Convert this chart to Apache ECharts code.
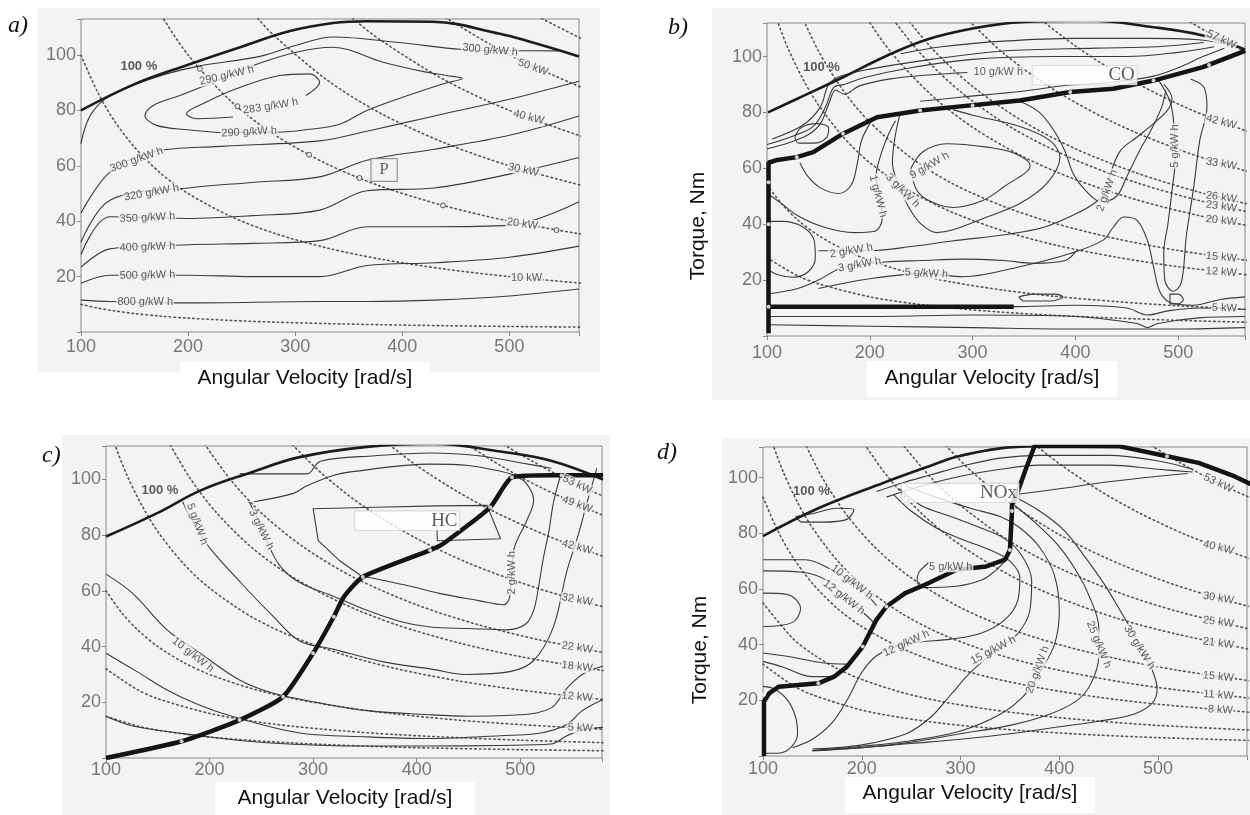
<!DOCTYPE html>
<html><head><meta charset="utf-8">
<script src="https://cdn.jsdelivr.net/npm/echarts@6/dist/echarts.min.js"></script>
<style>html,body{margin:0;padding:0;background:#fff;}#c{width:1250px;height:815px;}</style>
</head><body><div id="c"></div>
<script>
// ================= DATA =================
const xTicks = [100, 200, 300, 400, 500];
const yTicks = [20, 40, 60, 80, 100];
const xName = 'Angular Velocity [rad/s]';
const yName = 'Torque, Nm';
const panelLetters = ['a)', 'b)', 'c)', 'd)'];
const pctText = '100 %';

// ---- panel a : specific fuel consumption ----
const aFullLoad = [[100,80],[150,89.5],[200,96.5],[250,103],[304,109.5],[367,112.2],[428,112],[491,107.7],[521,104.6],[565,99.5]];
const aPowerCurves = [
  [[100,10],[115,8.7],[130,7.7],[150,6.67],[175,5.71],[200,5],[240,4.17],[280,3.57],[330,3.03],[380,2.63],[440,2.27],[500,2],[580,1.72]],
  [[100,100],[115,87],[130,76.9],[150,66.7],[175,57.1],[200,50],[240,41.7],[280,35.7],[330,30.3],[380,26.3],[440,22.7],[500,20],[580,17.2]],
  [[175,114.3],[200,100],[240,83.3],[280,71.4],[330,60.6],[380,52.6],[440,45.5],[500,40],[580,34.5]],
  [[265,113.2],[280,107.1],[330,90.9],[380,78.9],[440,68.2],[500,60],[580,51.7]],
  [[350,114.3],[380,105.3],[440,90.9],[500,80],[580,69]],
  [[440,113.6],[500,100],[580,86.2]],
  [[530,113.2],[580,103.4]]
];
const aPowerLabels = ['10 kW','20 kW','30 kW','40 kW','50 kW'];
const aPowerLabelPos = [[516,19.4],[512,39],[513,58.5],[518,77.5],[522,95.5]];
const aContours = [
  [[100,11.5],[127,11],[200,10.5],[323,11],[367,11],[430,11.5],[500,13],[565,15.5]],
  [[100,17.6],[127,20.5],[200,20.5],[260,20],[323,20],[367,24],[430,25],[500,27],[565,31]],
  [[100,23.4],[127,30],[200,31.5],[260,32],[323,33],[367,38],[430,38],[500,38.5],[565,47]],
  [[100,28],[127,41.6],[200,41],[260,42],[323,44],[367,51],[430,52],[500,57],[565,63]],
  [[100,32.4],[127,47.6],[200,52],[260,54],[323,56],[367,62],[430,66],[500,71],[565,78]],
  [[100,43],[127,57.7],[167,65],[230,67],[323,69],[367,72.5],[430,78],[500,84],[565,90.5]],
  [[100,68],[104,74],[110,79],[122,84],[145,88.5],[178,93],[210,96],[267,99.5],[301,103.5],[335,106.5],[397,104.5],[456,102],[500,101.6],[546,101.5]],
  [[228,72],[200,73],[170.5,74.6],[159.7,78.2],[167.4,81.8],[192.3,85.4],[223.4,90.2],[260.7,96.2],[301,101],[335,102.8],[382,97.4],[420,94],[441,92.6],[456,91.5],[440,89.8],[410,86],[367,80],[341.5,75],[310,73],[288.6,72.2],[258,72],[228,72]],
  [[241.8,77.6],[208,77],[198.5,78.8],[217,83],[245,87.8],[285.5,92.6],[313.5,93.2],[322.8,90.2],[310,85.4]]
];
const aContourLabels = ['290 g/kW h','283 g/kW h','290 g/kW h','300 g/kW h','320 g/kW h','350 g/kW h','400 g/kW h','500 g/kW h','800 g/kW h','300 g/kW h'];
const aContourLabelPos = [[236,92.6],[277,81.5],[257,72.2],[152,62.2],[166,50.3],[162,41.3],[162,30.7],[162,20.5],[160,10.8],[482,101.8]];
const aPct = [154,96];
const aPoints = [[211,95],[246,81.5],[313,64],[360,55.6],[438,45.7],[544,36.8]];
const aBoxText = 'P';
const aBoxPos = [383,58.5];

// ---- panel b : CO ----
const bFullLoad = [[101,80],[130,85],[174,92.6],[215,100],[255,106],[300,110],[346,112.3],[411,112.9],[476,110.5],[524,107.5],[565,102.5]];
const bOperating = [[101.5,1],[101.5,62],[110,63],[129,64],[145,65.8],[174,72.4],[207,78.3],[249,80.7],[281,81.9],[346,84.3],[395,87.3],[437,88.5],[476,91.4],[524,96.2],[565,102]];
const bIdle = [[101.5,10.5],[340,10.5]];
const bDots = [[101.5,10.5],[101.5,40],[101.5,55],[129,64],[174,72.4],[249,80.7],[300,82.5],[395,87.3],[476,91.4],[530,97]];
const bPowerCurves = [
  [[500,115],[510,112.7],[530,108.5],[560,102.7],[580,99.1]],
  [[360,115.3],[370,112.2],[400,103.8],[440,94.3],[500,83],[540,76.9],[580,71.6]],
  [[290,115.2],[330,101.2],[380,87.9],[440,75.9],[500,66.8],[540,61.9],[580,57.6]],
  [[230,116.5],[260,103.1],[300,89.3],[350,76.6],[400,67],[460,58.3],[520,51.5],[580,46.2]],
  [[220,114.5],[250,100.8],[290,86.9],[340,74.1],[400,63],[460,54.8],[520,48.5],[580,43.4]],
  [[195,114.9],[220,101.8],[260,86.2],[300,74.7],[350,64],[400,56],[460,48.7],[520,43.1],[580,38.6]],
  [[130,117.7],[150,102],[175,87.4],[200,76.5],[240,63.8],[280,54.6],[330,46.4],[380,40.3],[440,34.8],[500,30.6],[580,26.4]],
  [[108,114.8],[120,103.3],[135,91.9],[150,82.7],[175,70.9],[200,62],[240,51.7],[280,44.3],[330,37.6],[380,32.6],[440,28.2],[500,24.8],[580,21.4]],
  [[100,54],[115,47],[130,41.5],[150,36],[175,30.9],[200,27],[240,22.5],[280,19.3],[330,16.4],[380,14.2],[440,12.3],[500,10.8],[580,9.3]],
  [[100,28],[130,21.5],[150,18.7],[200,14],[240,11.7],[280,10],[330,8.5],[380,7.4],[440,6.4],[500,5.6],[580,4.8]]
];
const bPowerLabels = ['57 kW','42 kW','33 kW','26 kW','23 kW','20 kW','15 kW','12 kW','5 kW'];
const bPowerLabelPos = [[542,106.1],[542,76.6],[542,61.6],[542,49.6],[542,46.3],[542,41.3],[542,28.2],[542,22.9],[545,10]];
const bContours = [
  [[100,67],[120,69],[140,72],[152,76],[160,83],[167,88],[175,86.5],[190,89.5],[220,92],[260,93.5],[295,94.3]],
  [[100,68.5],[125,71.5],[145,75],[157,82],[165,89],[175,90],[195,92.5],[240,96],[300,99],[380,100],[450,100],[500,101.5],[535,103.5]],
  [[105,70.5],[135,75.5],[152,82],[160,90],[172,93],[200,95.5],[260,99],[330,102],[420,103],[480,103.5],[525,105]],
  [[230,101],[270,103.5],[330,105.5],[400,106.5],[470,106.5],[520,106],[545,104.5]],
  [[249,84],[290,85.5],[346,87.5],[395,89.8],[437,90.8],[476,93],[500,96],[524,100],[545,103]],
  [[127,71],[133,74.5],[148,76],[160,74.5],[158,71],[145,69],[131,69],[127,71]],
  [[132,62],[140,57],[152,53],[170,51],[182,54],[188,62],[192,70],[200,76]],
  [[100,51],[112,48],[130,43],[155,39],[185,37],[205,37.5],[212,42],[210,50],[206,57],[210,64],[218,72],[225,77]],
  [[229,79],[224,70],[222,62],[228,54],[238,46],[250,40],[265,37],[281,38],[314,42.6],[346,47.4],[372,54.5],[385,64],[375,70],[346,75],[300,79],[281,81]],
  [[240,60],[246,52],[260,48],[281,46],[310,48.5],[330,53.3],[356,61],[340,65.5],[314,67.6],[275,68.8],[252,66],[240,60]],
  [[150,30.5],[182,30.5],[206,30.6],[240,32],[280,34],[336,36.5],[370,39],[401,43.8],[418,47.4],[431,52],[434,58],[444,66.4],[460,71.2],[476,76],[490,81],[494,85],[486,90]],
  [[346,84],[365,80],[380,73],[390,66],[398,58],[410,52],[425,48],[440,50],[450,57],[462,66],[474,74],[484,82],[488,88]],
  [[100,41],[115,41],[135,39],[146,34],[147,28],[140,23],[125,21],[110,22],[100,24]],
  [[100,15],[130,17],[150,20],[170,24],[190,25.5],[215,26.5],[250,27],[290,27.5],[330,27],[360,26],[390,27],[400,30]],
  [[150,17],[200,20.5],[255,22.4],[291,21.2],[346,24.8],[395,29.5],[427,34.3],[437,39],[447,42.6],[460,41.4],[470,34.3],[476,24.8],[482,16],[492,12],[515,11],[540,13],[565,14]],
  [[480,92],[492,84],[496,75],[497,63],[494,52],[490,40],[486,30],[487,20],[495,16],[503,19],[508,36],[515,53],[521,70],[528,82],[525,89],[512,92]],
  [[100,10.5],[200,10.5],[340,10.5],[400,11],[450,10],[470,7.5],[490,9],[520,10],[565,9.5]],
  [[100,7],[200,7],[300,7.5],[400,7],[460,4.5],[470,3],[480,4.5],[520,6.5],[565,7]],
  [[100,4],[200,3.5],[300,3],[400,2.5],[500,2.5],[565,3]],
  [[345,14],[360,15],[380,15],[388,14],[375,12.5],[350,12.5],[345,14]],
  [[492,11.5],[492,15],[500,15],[505,13],[500,11.5],[492,11.5]]
];
const bContourLabels = ['10 g/kW h','9 g/kW h','1 g/kW h','3 g/kW h','2 g/kW h','3 g/kW h','5 g/kW h','2 g/kW h','5 g/kW h'];
const bContourLabelPos = [[325,94.3],[258,61],[208,50],[232,52],[182,30.5],[190,25.5],[255,22.4],[431,52],[497,68]];
const bPct = [153,96];
const bBoxText = 'CO';
const bBoxPos = [409,93.3];

// ---- panel c : HC ----
const cFullLoad = [[100,79.5],[150,88],[191,96],[240,102.5],[287,108],[352,111.7],[416,112.8],[481,110],[529,106.8],[580,100]];
const cOperating = [[100,0],[173,6],[229,13.6],[271,22],[300,37.6],[320,50.7],[330,58],[348,65],[413,74.6],[426,77],[471,90],[484,97.3],[492,100.8],[530,101.5],[580,101.5]];
const cDots = [[173,6],[229,13.6],[271,22],[300,37.6],[320,50.7],[348,65],[413,74.6],[471,90],[492,100.8],[540,101.5]];
const cPowerCurves = [
  [[480,113.5],[500,109],[540,100.9],[580,94]],
  [[445,113.5],[480,105.2],[520,97.1],[580,87.1]],
  [[370,113.5],[400,105],[440,95.5],[480,87.5],[530,79.2],[580,72.4]],
  [[280,112.5],[310,101.6],[350,90],[400,78.8],[450,70],[500,63],[540,58.3],[580,54.3]],
  [[195,112.8],[220,100],[250,88],[290,75.9],[340,64.7],[400,55],[460,47.8],[520,42.3],[580,37.9]],
  [[160,113.8],[180,101.1],[205,88.8],[240,75.8],[280,65],[330,55.2],[380,47.9],[440,41.4],[500,36.4],[580,31.4]],
  [[108,113],[120,101.7],[135,90.4],[150,81.3],[175,69.7],[200,61],[240,50.8],[280,43.6],[330,37],[380,32.1],[440,27.7],[500,24.4],[580,21]],
  [[100,60],[115,52.2],[130,46.2],[150,40],[175,34.3],[200,30],[240,25],[280,21.4],[330,18.2],[380,15.8],[440,13.6],[500,12],[580,10.3]],
  [[100,32],[130,24.6],[150,21.3],[200,16],[240,13.3],[280,11.4],[330,9.7],[380,8.4],[440,7.3],[500,6.4],[580,5.5]],
  [[100,15],[130,11.5],[150,10],[200,7.5],[280,5.4],[380,3.9],[500,3],[580,2.6]]
];
const cPowerLabels = ['53 kW','49 kW','42 kW','32 kW','22 kW','18 kW','12 kW','5 kW'];
const cPowerLabelPos = [[555,98.2],[555,91],[555,75.7],[555,56.8],[555,39.6],[555,32.8],[555,22],[558,10.8]];
const cContours = [
  [[229,102],[294,102],[307,106.5],[360,108.5],[413,109.5],[460,108.5],[500,106],[530,104]],
  [[243,92],[281,95],[294,97.7],[320,101.5],[336,102.7],[413,105.5],[450,105],[480,103],[495,101.5]],
  [[238,92],[245,87],[255,78],[268,69],[287,63],[320,58],[352,53],[384,49],[413,47],[450,46.5],[487,46],[505,48],[513,53],[518,62],[522,71],[528,82],[532,91.5],[539,101.5]],
  [[174,92],[182,86],[192,80],[201,75],[230,63],[261,51],[287,42],[320,39],[368,34.5],[413,32],[448,30],[490,31],[513,35],[532,47],[545,67],[556,80],[564,91],[574,104]],
  [[100,66],[126,59],[159,46],[191,37.6],[229,28],[261,23.3],[303,20],[352,17],[413,15.5],[450,15],[500,15.5],[530,18],[545,25],[560,30],[580,33]],
  [[100,37.6],[130,31],[159,24.4],[190,19],[223,14.8],[287,9],[352,7.6],[413,7],[481,8],[520,9],[545,12],[560,17],[580,21]],
  [[100,15],[126,11.5],[191,8],[255,5.5],[352,4.3],[413,4.3],[480,4.5],[530,5],[545,8],[560,10],[580,11]],
  [[352,65],[390,62],[423,59],[460,56.5],[484,55],[490,58],[494,75],[506,85],[513,92.5],[505,99],[495,101]]
];
const cPolygon = [[348,65],[325,71],[305,78],[300,89.5],[360,90],[420,90.5],[468,90.7],[481,78.7],[420,78],[419.5,83]];
const cContourLabels = ['5 g/kW h','3 g/kW h','10 g/kW h','2 g/kW h'];
const cContourLabelPos = [[188,84],[250,82],[184,37],[492,66.5]];
const cPct = [152,96];
const cBoxText = 'HC';
const cBoxPos = [391,85.2];

// ---- panel d : NOx ----
const dFullLoad = [[100,79],[156,89],[221,98],[273,104.7],[296,107.5],[340,110.5],[378,111.3]];
const dOperating = [[101,0],[101,19.6],[106.5,22.6],[116,24.9],[156,26.1],[172,28.5],[185,32.1],[201,39.3],[215,49],[225,53.7],[244,58.5],[264,61.5],[296,66.9],[326,68.1],[345,70.5],[350,74],[352,87.3],[352,90],[358,95],[366,103],[375,111.4],[420,111.4],[460,111.3],[509,107.7],[541,105.3],[577,100.5],[595,97.5]];
const dDots = [[101,22],[156,26.1],[201,39.3],[225,53.7],[296,66.9],[350,74],[352,88],[375,111.4],[420,111.4],[460,111.3],[509,107.7]];
const dPowerCurves = [
  [[485,113.4],[490,112.2],[520,105.8],[560,98.2],[600,91.7]],
  [[375,112],[400,105],[440,95.5],[480,87.5],[530,79.2],[600,70]],
  [[285,111.6],[310,102.6],[350,90.9],[400,79.5],[450,70.7],[500,63.6],[550,57.8],[600,53]],
  [[240,112.5],[270,100],[300,90],[350,77.1],[400,67.5],[460,58.7],[520,51.9],[600,45]],
  [[200,113.5],[225,100.9],[260,87.3],[300,75.7],[350,64.9],[400,56.8],[460,49.3],[520,43.7],[600,37.8]],
  [[142,112.7],[160,100],[185,86.5],[215,74.4],[250,64],[300,53.3],[350,45.7],[400,40],[460,34.8],[520,30.8],[600,26.7]],
  [[108,113.9],[120,102.5],[135,91.1],[150,82],[175,70.3],[200,61.5],[240,51.3],[280,43.9],[330,37.3],[380,32.4],[440,28],[500,24.6],[600,20.5]],
  [[100,93],[115,80.9],[130,71.5],[150,62],[175,53.1],[200,46.5],[240,38.8],[280,33.2],[330,28.2],[380,24.5],[440,21.1],[500,18.6],[600,15.5]],
  [[100,55],[130,42.3],[150,36.7],[175,31.4],[200,27.5],[240,22.9],[280,19.6],[330,16.7],[380,14.5],[440,12.5],[500,11],[600,9.2]],
  [[100,33],[130,25.4],[150,22],[200,16.5],[240,13.8],[280,11.8],[330,10],[380,8.7],[440,7.5],[500,6.6],[600,5.5]]
];
const dPowerLabels = ['53 kW','40 kW','30 kW','25 kW','21 kW','15 kW','11 kW','8 kW'];
const dPowerLabelPos = [[561,98],[561,74.9],[561,56.7],[561,48.1],[561,40.5],[561,28.5],[561,21.9],[563,16.6]];
const dContours = [
  [[100,70.5],[143,70.5],[169,67],[190,62.5],[205,58],[215,54]],
  [[100,66.5],[140,66],[165,63],[183,57],[200,52],[212,48]],
  [[345,70],[335,66.5],[322,63.3],[296,61],[262,60.5],[256,63],[258,66],[268,69.5]],
  [[232,94],[250,88],[275,82],[300,78],[330,74],[350,70],[360,64],[358,56],[345,49],[320,44],[290,42],[260,41],[240,40],[215,36],[200,30],[185,20],[170,12],[150,6],[130,3]],
  [[238,96],[260,90],[290,86],[320,82],[345,78],[362,72],[372,63],[370,52],[358,44],[340,39],[329,36],[310,30],[290,22],[270,14],[245,8],[200,4],[150,2.5]],
  [[245,97],[275,93],[310,89],[340,86],[360,82],[380,75],[395,65],[400,52],[395,40],[380,30],[365,22],[340,15],[300,9],[250,5.5],[200,3.5],[150,2]],
  [[355,90],[375,84],[398,76],[418,66],[432,56],[440,46],[440,36],[432,26],[418,20],[390,15],[350,11],[300,8],[250,5],[200,3],[150,1.8]],
  [[355,93],[380,88],[405,81],[425,72],[445,62],[462,52],[475,44],[485,37],[495,30],[499,24],[494,19],[475,15],[440,12.5],[400,10.5],[350,8],[300,6],[250,4.5],[200,3],[150,2]],
  [[215,95],[240,98],[270,101],[300,104],[340,107],[380,108],[450,108],[500,106],[535,103]],
  [[225,93],[260,97],[300,100.5],[340,103],[380,104.5],[450,104.5],[500,103],[535,102]],
  [[358,94],[400,96],[450,98.5],[500,100.5],[530,101.5]],
  [[133,86],[150,87],[175,89],[192,88.5],[185,85],[160,84],[140,84],[133,86]],
  [[100,58.5],[125,58],[138,53],[130,48],[100,46.5]],
  [[100,25],[112,24],[125,20],[133,14],[135,8],[128,3],[115,1],[101,1]],
  [[100,37],[130,35.5],[160,33.5],[185,33]],
  [[100,34],[120,32],[150,28.5],[170,28.5]]
];
const dContourLabels = ['10 g/kW h','12 g/kW h','5 g/kW h','12 g/kW h','15 g/kW h','20 g/kW h','25 g/kW h','30 g/kW h'];
const dContourLabelPos = [[190,62.5],[182,57],[290,68],[245,40.5],[333,38],[378,31],[440,40],[481,39]];
const dPct = [149,95];
const dBoxText = 'NOx';
const dBoxPos = [300,94.5];

// ================= STYLE / LAYOUT =================
const BG = '#f3f3f3';
const FONT = "'Liberation Sans', Arial, sans-serif";
const SERIF = "'Liberation Serif', 'Times New Roman', serif";
const grids = [
  {left:81, top:19, width:498, height:313},
  {left:767, top:23, width:478, height:313},
  {left:106, top:446, width:496, height:312},
  {left:763, top:447, width:500, height:309}
];
const xMax = [565, 565, 579, 590];
const yMax = [113, 112, 112, 111];
const xLabelMargin = [6, 8, 3, 4];
const namePos = [[305,378],[992,378],[345,798],[970,793]];
const nameBoxes = [[180,362,250,34],[867,361,250,36],[215,782,260,33],[845,777,250,36]];
const torquePos = [[698,226],[700,650]];
const torqueBoxes = [[684,160,28,132],[686,584,28,132]];

const aPowerAngles = [0,-8,-12,-15,-20];
const aLabelAngles = [13,9,3,20,10,3,2,1,0,-5];
const bPowerAngles = [-25,-15,-10,-8,-8,-6,-5,-4,-2];
const bLabelAngles = [0,30,-75,-45,10,10,-3,70,90];
const cPowerAngles = [-25,-20,-15,-10,-8,-6,-5,-3];
const cLabelAngles = [-70,-64,-38,90];
const dPowerAngles = [-25,-14,-10,-8,-7,-5,-4,-3];
const dLabelAngles = [-38,-38,0,25,28,70,-68,-58];

const series = [];
function addLines(gi, arr, style, smooth, z) {
  arr.forEach(d => series.push({type:'line', xAxisIndex:gi, yAxisIndex:gi, data:d, symbol:'none',
    smooth:smooth, lineStyle:style, silent:true, z:z, animation:false}));
}
function addTexts(gi, txt, pos, ang, st, z) {
  series.push({type:'scatter', xAxisIndex:gi, yAxisIndex:gi, symbolSize:0, silent:true, z:z||8, animation:false,
    data: txt.map((t,i)=>({value:pos[i], label:{formatter:t, rotate:ang ? ang[i] : 0}})),
    label:Object.assign({show:true, position:'inside'}, st)});
}
function addDots(gi, pts, item, size, z) {
  series.push({type:'scatter', xAxisIndex:gi, yAxisIndex:gi, data:pts, symbol:'circle', symbolSize:size,
    itemStyle:item, silent:true, z:z, animation:false});
}
const dotStyle = {color:'#555', width:1.6, type:[1.5,3.2], cap:'round'};
const contStyle = {color:'#3a3a3a', width:1.1};
const fullStyle = {color:'#1c1c1c', width:2.6};
const opStyle = {color:'#141414', width:4.5};
const lblStyle = {color:'#333', fontSize:11, fontFamily:FONT, backgroundColor:BG, padding:[0,1]};
const kwStyle = {color:'#333', fontSize:11, fontFamily:FONT, backgroundColor:BG, padding:[0,1]};
const pctStyle = {color:'#333', fontSize:13, fontWeight:'bold', fontFamily:FONT};
function boxStyle(padLeft){ return {color:'#333', fontSize:19, fontFamily:SERIF, backgroundColor:'#fff', borderColor:'#bbb', borderWidth:0.6, padding:[0,2,0,padLeft]}; }

// panel a
addLines(0, aPowerCurves, dotStyle, 0.3, 2);
addLines(0, aContours, contStyle, 0.35, 3);
addLines(0, [aFullLoad], fullStyle, 0.4, 4);
addDots(0, aPoints, {color:BG, borderColor:'#333', borderWidth:1}, 5, 6);
addTexts(0, aPowerLabels, aPowerLabelPos, aPowerAngles, kwStyle);
addTexts(0, aContourLabels, aContourLabelPos, aLabelAngles, lblStyle);
addTexts(0, [pctText], [aPct], null, pctStyle);
addTexts(0, [aBoxText], [aBoxPos], null, {color:'#444', fontSize:17, fontFamily:SERIF, backgroundColor:BG, borderColor:'#777', borderWidth:1, padding:[3,8,2,8]}, 9);

// panel b
addLines(1, bPowerCurves, dotStyle, 0.3, 2);
addLines(1, bContours, contStyle, 0.35, 3);
addLines(1, [bFullLoad], fullStyle, 0.4, 4);
addLines(1, [bOperating, bIdle], opStyle, false, 5);
addDots(1, bDots, {color:'#fff'}, 4, 6);
addTexts(1, bPowerLabels, bPowerLabelPos, bPowerAngles, kwStyle);
addTexts(1, bContourLabels, bContourLabelPos, bLabelAngles, lblStyle);
addTexts(1, [pctText], [bPct], null, pctStyle);
addTexts(1, [bBoxText], [bBoxPos], null, boxStyle(76), 9);

// panel c
addLines(2, cPowerCurves, dotStyle, 0.3, 2);
addLines(2, cContours, contStyle, 0.35, 3);
addLines(2, [cPolygon], contStyle, false, 3);
addLines(2, [cFullLoad], fullStyle, 0.4, 4);
addLines(2, [cOperating], opStyle, 0.2, 5);
addDots(2, cDots, {color:'#fff'}, 4, 6);
addTexts(2, cPowerLabels, cPowerLabelPos, cPowerAngles, kwStyle);
addTexts(2, cContourLabels, cContourLabelPos, cLabelAngles, lblStyle);
addTexts(2, [pctText], [cPct], null, pctStyle);
addTexts(2, [cBoxText], [cBoxPos], null, boxStyle(76), 9);

// panel d
addLines(3, dPowerCurves, dotStyle, 0.3, 2);
addLines(3, dContours, contStyle, 0.35, 3);
addLines(3, [dFullLoad], fullStyle, 0.4, 4);
addLines(3, [dOperating], opStyle, false, 5);
addDots(3, dDots, {color:'#fff'}, 4, 6);
addTexts(3, dPowerLabels, dPowerLabelPos, dPowerAngles, kwStyle);
addTexts(3, dContourLabels, dContourLabelPos, dLabelAngles, lblStyle);
addTexts(3, [pctText], [dPct], null, pctStyle);
addTexts(3, [dBoxText], [dBoxPos], null, boxStyle(78), 9);

const xAxes = grids.map((g,i)=>({gridIndex:i, type:'value', min:xTicks[0], max:xMax[i], interval:100,
  axisLine:{show:false}, splitLine:{show:false},
  axisTick:{show:true, length:4, lineStyle:{color:'#888'}},
  axisLabel:{color:'#777', fontSize:18, fontFamily:FONT, margin:xLabelMargin[i], formatter:v => xTicks.includes(v) ? String(v) : ''}}));
const yAxes = grids.map((g,i)=>({gridIndex:i, type:'value', min:0, max:yMax[i], interval:20,
  axisLine:{show:false}, splitLine:{show:false},
  axisTick:{show:true, length:4, lineStyle:{color:'#888'}},
  axisLabel:{color:'#777', fontSize:18, fontFamily:FONT, margin:5, formatter:v => yTicks.includes(v) ? String(v) : ''}}));

const panelRects = [[37,8,563,364],[712,8,538,392],[62,435,548,380],[722,438,528,377]];
const letterPos = [[8,14],[668,16],[42,444],[657,441]];
const graphic = [];
panelRects.forEach(r => graphic.push({type:'rect', shape:{x:r[0], y:r[1], width:r[2], height:r[3]}, style:{fill:BG}, z:-10, silent:true}));
nameBoxes.concat(torqueBoxes).forEach(r => graphic.push({type:'rect', shape:{x:r[0], y:r[1], width:r[2], height:r[3]}, style:{fill:'#fff'}, z:-9, silent:true}));
panelLetters.forEach((t,i) => graphic.push({type:'text', x:letterPos[i][0], y:letterPos[i][1], style:{text:t, font:'italic 24px ' + SERIF, fill:'#111'}, z:10}));
namePos.forEach(p => graphic.push({type:'text', x:p[0], y:p[1],
  style:{text:xName, font:'21px ' + FONT, fill:'#111', textAlign:'center', textVerticalAlign:'middle'}, z:10}));
torquePos.forEach(p => graphic.push({type:'text', x:p[0], y:p[1], rotation:Math.PI/2,
  style:{text:yName, font:'21px ' + FONT, fill:'#111', textAlign:'center', textVerticalAlign:'middle'}, z:10}));

const chart = echarts.init(document.getElementById('c'), null, {width:1250, height:815});
chart.setOption({
  animation:false,
  backgroundColor:'#fff',
  grid: grids.map(g => Object.assign({show:true, borderColor:'#888', borderWidth:1, backgroundColor:'transparent', containLabel:false}, g)),
  xAxis: xAxes,
  yAxis: yAxes,
  graphic: graphic,
  series: series
});
</script></body></html>
